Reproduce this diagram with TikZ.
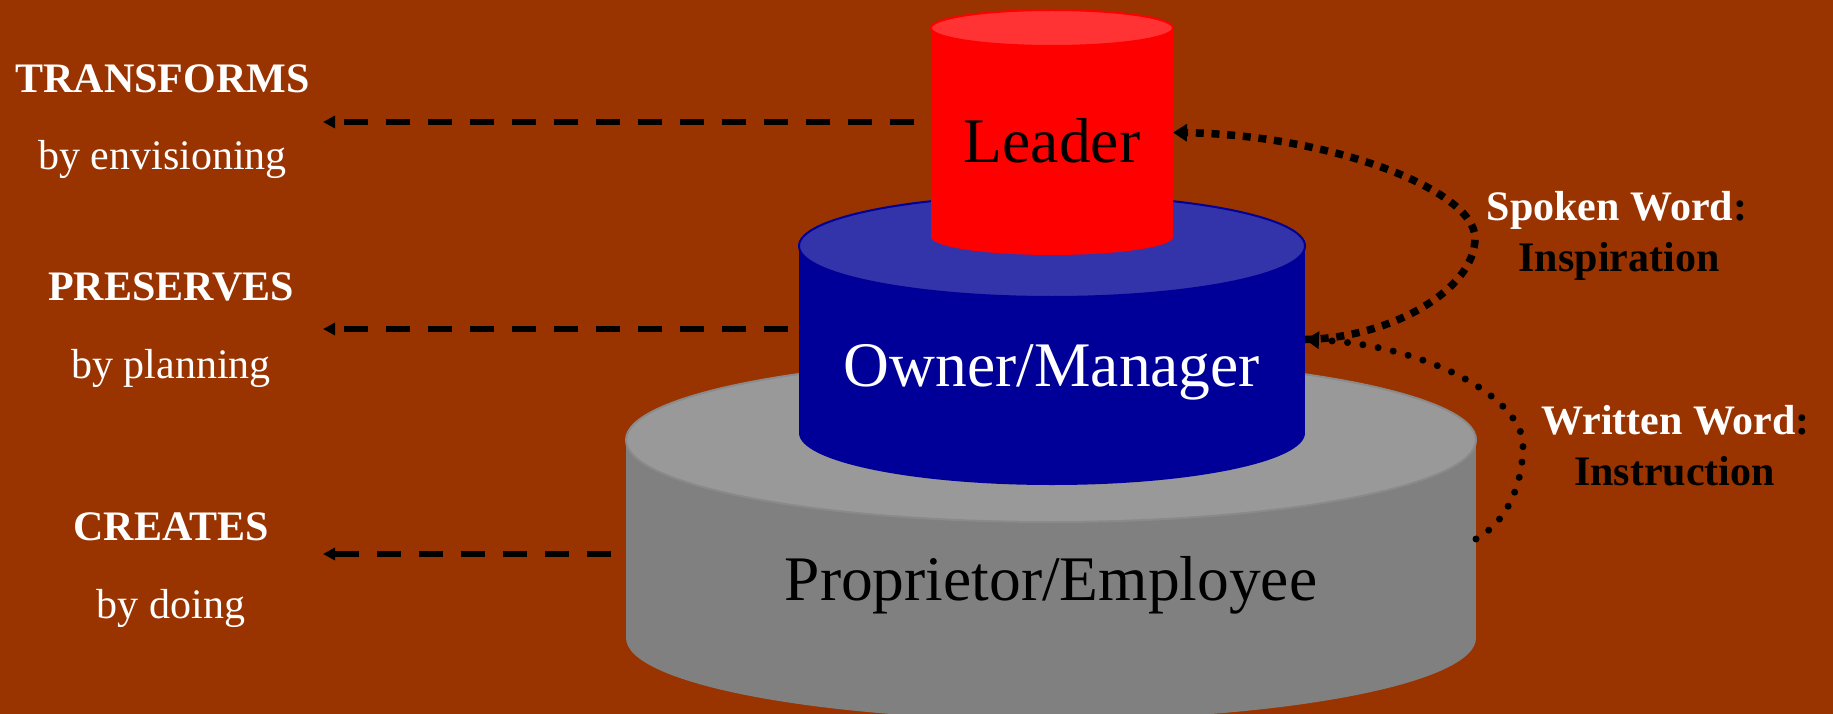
\documentclass[tikz,border=0pt]{standalone}
\usepackage{fontspec}
\setmainfont{Liberation Serif}
\usetikzlibrary{arrows.meta}
\definecolor{bgc}{HTML}{993300}
\definecolor{redtop}{HTML}{FF3333}
\definecolor{redbody}{HTML}{FF0000}
\definecolor{bluetop}{HTML}{3333AA}
\definecolor{bluebody}{HTML}{000099}
\definecolor{graytop}{HTML}{999999}
\definecolor{graybody}{HTML}{808080}
\definecolor{grayline}{HTML}{8A8A8A}
\begin{document}
\begin{tikzpicture}[x=1pt,y=-1pt,
  bigtext/.style={font=\fontsize{63.5}{70}\selectfont, inner sep=0, anchor=base},
  sidetext/.style={font=\fontsize{42}{48}\selectfont, inner sep=0, anchor=base, text=white},
  sidehead/.style={font=\fontsize{42}{48}\selectfont\bfseries, inner sep=0, anchor=base, text=white},
  wordtext/.style={font=\fontsize{42}{48}\selectfont\bfseries, inner sep=0, anchor=base, text=black},
  bodybox/.style={inner sep=0, outer sep=0},
  dasharrow/.style={line width=6pt, dash pattern=on 24pt off 18pt, -{Triangle[length=12pt,width=12pt]}},
  sqdots/.style={line width=7.5pt, dash pattern=on 8pt off 7.7pt, -{Triangle[length=14pt,width=17pt]}},
  rddots/.style={line width=7pt, line cap=round, dash pattern=on 0pt off 15.5pt, -{Triangle[length=14pt,width=17pt]}}
]
\useasboundingbox (0,0) rectangle (1833,714);
\fill[bgc] (0,0) rectangle (1833,714);

% gray cylinder
\fill[graybody] (626,440) rectangle (1476,638);
\fill[graybody] (1051,638) ellipse [x radius=425, y radius=82];
\filldraw[fill=graytop, draw=grayline, line width=2pt] (1051,440) ellipse [x radius=425, y radius=82];
\node[bodybox, minimum width=850pt, minimum height=198pt] (gray) at (1051,539) {};

% blue cylinder
\fill[bluebody] (799,246) rectangle (1305,433);
\fill[bluebody] (1052,433) ellipse [x radius=253, y radius=52];
\filldraw[fill=bluetop, draw=bluebody, line width=2pt] (1052,246) ellipse [x radius=253, y radius=51];
\node[bodybox, minimum width=506pt, minimum height=187pt] (owner) at (1052,339.5) {};

% red cylinder
\fill[redbody] (931,28) rectangle (1173,237);
\fill[redbody] (1052,237) ellipse [x radius=121, y radius=18];
\filldraw[fill=redtop, draw=redbody, line width=2pt] (1052,28) ellipse [x radius=121, y radius=18];
\node[bodybox, minimum width=242pt, minimum height=209pt] (leader) at (1052,132.5) {};

% cylinder labels
\node[bigtext, text=black] (leadertxt) at (1052,163) {Leader};
\node[bigtext, text=white] (ownertxt) at (1052,386) {Owner/Manager};
\node[bigtext, text=black] (proptxt) at (1051,600) {Proprietor/Employee};

% left labels
\node[sidehead] (transforms) at (162.5,93) {TRANSFORMS};
\node[sidetext] (envision) at (162.5,169.5) {by envisioning};
\node[sidehead] (preserves) at (171,300.5) {PRESERVES};
\node[sidetext] (planning) at (171,378.5) {by planning};
\node[sidehead] (creates) at (171,540.5) {CREATES};
\node[sidetext] (doing) at (171,618.5) {by doing};

% right labels
\node[wordtext] (spoken) at (1617,220) {\textcolor{white}{Spoken Word}:};
\node[wordtext] (inspiration) at (1619,271) {Inspiration};
\node[wordtext] (written) at (1675.5,434) {\textcolor{white}{Written Word}:};
\node[wordtext] (instruction) at (1674.5,485) {Instruction};

% dashed arrows
\coordinate (t1) at (323,122);
\coordinate (t2) at (323,329);
\coordinate (t3) at (323,554);
\draw[dasharrow, shorten <=17pt] (leader.west |- t1) -- (t1);
\draw[dasharrow, shorten <=11pt] (owner.west |- t2) -- (t2);
\draw[dasharrow, shorten <=15pt] (gray.west |- t3) -- (t3);

% dotted curves
\draw[sqdots] (owner.east) .. controls (1390,338) and (1475,290) .. (1475,238)
  .. controls (1475,190) and (1330,135) .. (leader.east);
\draw[rddots] (gray.east) .. controls (1510,520) and (1523,480) .. (1523,445)
  .. controls (1523,400) and (1430,345) .. (owner.east);
\end{tikzpicture}
\end{document}
